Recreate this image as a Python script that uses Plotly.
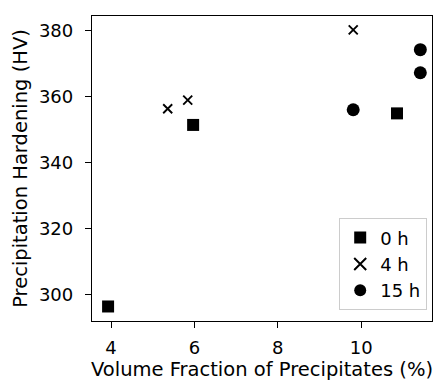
import plotly.graph_objects as go

# Volume fraction (%) and hardening (HV) per ageing time
vf_0h = [3.93, 5.97, 10.86]
hv_0h = [296.5, 351.5, 355.0]

vf_4h = [5.36, 5.84, 9.81]
hv_4h = [356.4, 359.0, 380.3]

vf_15h = [9.81, 11.42, 11.42]
hv_15h = [356.1, 374.3, 367.3]

x_ticks = [4, 6, 8, 10]
y_ticks = [300, 320, 340, 360, 380]

font = "DejaVu Sans"
fsize = 18
tsize = 19.5

fig = go.Figure()
fig.add_trace(go.Scatter(x=vf_0h, y=hv_0h, mode="markers", name="0 h",
                         marker=dict(symbol="square", size=12, color="black")))
fig.add_trace(go.Scatter(x=vf_4h, y=hv_4h, mode="markers", name="4 h",
                         marker=dict(symbol="x-thin", size=9, color="black",
                                     line=dict(width=1.9, color="black"))))
fig.add_trace(go.Scatter(x=vf_15h, y=hv_15h, mode="markers", name="15 h",
                         marker=dict(symbol="circle", size=13, color="black")))

axis_common = dict(showline=True, linecolor="black", linewidth=1.3, mirror=True,
                   ticks="outside", ticklen=6, tickwidth=1.2, tickcolor="black",
                   showgrid=False, zeroline=False,
                   tickfont=dict(family=font, size=fsize, color="black"))

fig.update_xaxes(range=[3.544, 11.70], tickvals=x_ticks, ticklabelstandoff=4,
                 title=dict(text="Volume Fraction of Precipitates (%)",
                            font=dict(family=font, size=tsize, color="black"), standoff=1),
                 **axis_common)
fig.update_yaxes(range=[292.1, 384.5], tickvals=y_ticks, ticklabelstandoff=8,
                 title=dict(text="Precipitation Hardening (HV)",
                            font=dict(family=font, size=tsize, color="black"), standoff=6),
                 **axis_common)

fig.update_layout(
    width=437, height=381,
    margin=dict(l=92, r=5, t=16, b=60, autoexpand=False),
    plot_bgcolor="white", paper_bgcolor="white",
    font=dict(family=font, size=fsize, color="black"),
    legend=dict(x=0.985, y=0.036, xanchor="right", yanchor="bottom",
                bgcolor="rgba(255,255,255,0.8)", bordercolor="#cccccc", borderwidth=1.3,
                font=dict(family=font, size=fsize, color="black"),
                itemsizing="constant", tracegroupgap=4),
)

fig.write_html("out.html")
